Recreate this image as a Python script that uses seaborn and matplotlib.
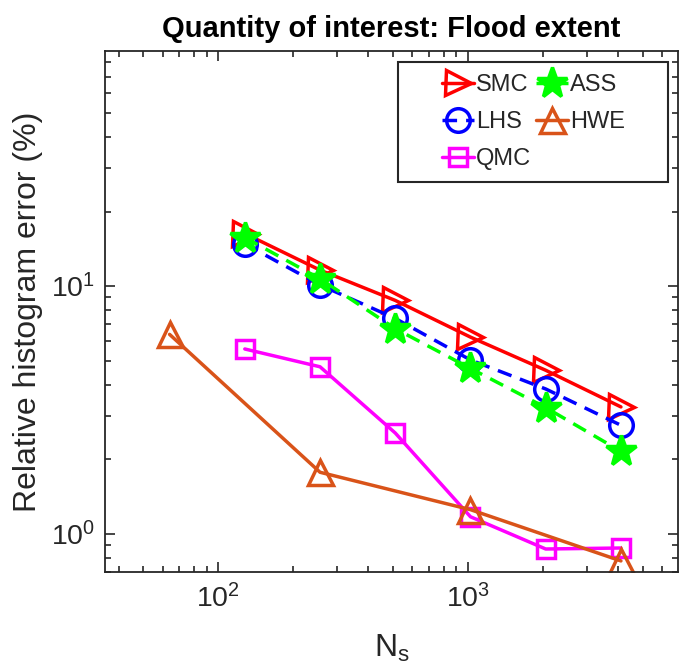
import numpy as np
import pandas as pd
import matplotlib
matplotlib.use("Agg")
import matplotlib.pyplot as plt
from matplotlib.ticker import FuncFormatter, NullFormatter, LogLocator
from matplotlib.patches import Rectangle
import seaborn as sns

# ---- data ----
ns_main = [128, 256, 512, 1024, 2048, 4096]
ns_hwe = [64, 256, 1024, 4096]
smc = [16.3, 11.6, 8.75, 6.22, 4.57, 3.25]
lhs = [14.8, 10.1, 7.4, 5.03, 3.84, 2.74]
qmc = [5.57, 4.72, 2.55, 1.17, 0.867, 0.875]
ass = [15.7, 10.7, 6.73, 4.65, 3.23, 2.15]
hwe = [6.38, 1.77, 1.25, 0.776]
labels = ["SMC", "LHS", "QMC", "ASS", "HWE"]
title = "Quantity of interest: Flood extent"
ylabel = "Relative histogram error (%)"

sns.set_style("ticks")
plt.rcParams["font.family"] = ["Liberation Sans", "DejaVu Sans"]
plt.rcParams["mathtext.default"] = "regular"

fig = plt.figure(figsize=(6.8, 6.68), dpi=100)
ax = fig.add_axes([105 / 680, 1 - 572 / 668, 573 / 680, 521 / 668])

dash = (0, (4.2, 2.6))
series = [
    (ns_main, smc, labels[0], "#ff0000", ">", "-", 18, "none"),
    (ns_main, lhs, labels[1], "#0000ff", "o", dash, 17, "none"),
    (ns_main, qmc, labels[2], "#ff00ff", "s", "-", 13.5, "none"),
    (ns_main, ass, labels[3], "#00ff00", "*", dash, 23, "#00ff00"),
    (ns_hwe, hwe, labels[4], "#d95319", "^", "-", 18, "none"),
]
for xs, ys, lab, col, mk, ls, ms, fc in series:
    sns.lineplot(x=xs, y=ys, ax=ax, color=col, marker=mk, linestyle=ls,
                 markersize=ms, markerfacecolor=fc, markeredgecolor=col,
                 markeredgewidth=2.5, linewidth=2.5, label=lab, errorbar=None)

ax.set_xscale("log")
ax.set_yscale("log")
ax.set_xlim(35.3, 6930)
ax.set_ylim(0.70, 89)

fmt = FuncFormatter(lambda v, p: r"$\mathregular{10^{%d}}$" % round(np.log10(v)))
ax.xaxis.set_major_locator(LogLocator(base=10))
ax.yaxis.set_major_locator(LogLocator(base=10))
ax.xaxis.set_major_formatter(fmt)
ax.yaxis.set_major_formatter(fmt)
ax.xaxis.set_minor_locator(LogLocator(base=10, subs=np.arange(2, 10)))
ax.yaxis.set_minor_locator(LogLocator(base=10, subs=np.arange(2, 10)))
ax.xaxis.set_minor_formatter(NullFormatter())
ax.yaxis.set_minor_formatter(NullFormatter())

gray = "#262626"
for s in ax.spines.values():
    s.set_visible(True)
    s.set_color(gray)
    s.set_linewidth(1.3)
ax.tick_params(which="both", direction="in", top=True, right=True,
               color=gray, labelcolor=gray, width=1.2)
ax.tick_params(which="major", length=7.5, labelsize=20.5)
ax.tick_params(axis="x", which="major", pad=9)
ax.tick_params(axis="y", which="major", pad=7)
ax.tick_params(which="minor", length=4.5)

ax.set_xlabel(r"N$_\mathregular{s}$", fontsize=23, color=gray, labelpad=14)
ax.set_ylabel(ylabel, fontsize=23, color=gray, labelpad=6)
ax.set_title(title, fontsize=21, fontweight="bold", color="black", pad=10)

# legend box
ax.add_patch(Rectangle((0.511, 0.749), 0.472, 0.230, transform=ax.transAxes,
                       facecolor="white", edgecolor=gray, linewidth=1.5, zorder=4))
handles, labs = ax.get_legend_handles_labels()
leg = ax.legend(handles, labs, ncol=2, loc="upper left",
                bbox_to_anchor=(0.588, 0.956), frameon=False, fontsize=17,
                borderpad=0, borderaxespad=0, handlelength=1.35,
                handletextpad=0.1, columnspacing=0.2, labelspacing=0.64)
leg.set_zorder(5)

fig.savefig("out.png", dpi=100)
